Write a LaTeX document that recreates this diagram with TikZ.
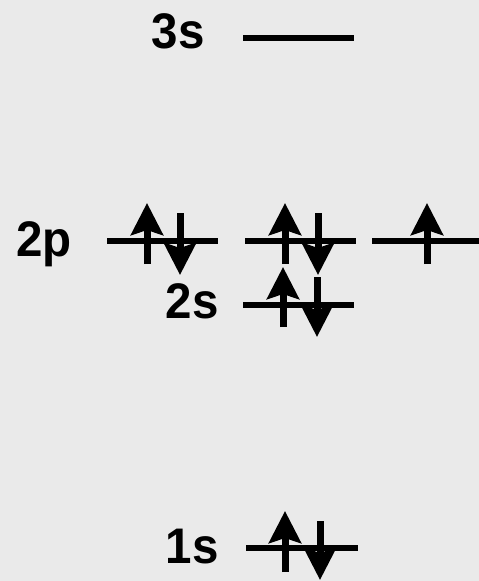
\documentclass[tikz,border=0pt]{standalone}
\usepackage{fontspec}
\setmainfont{Liberation Sans}
\usetikzlibrary{arrows.meta}
\definecolor{bg}{HTML}{EAEAEA}
\tikzset{
  level/.style={line width=6pt},
  spin/.style={line width=7pt,-{Stealth[width=32pt,length=32pt,inset=5pt]}},
  lab/.style={inner sep=0pt,font=\fontsize{50}{50}\selectfont\bfseries,xscale=0.95}
}
\begin{document}
\begin{tikzpicture}[x=1pt,y=-1pt]
\fill[bg] (0,0) rectangle (479,581);
\useasboundingbox (0,0) rectangle (479,581);
% levels
\coordinate (s3a) at (243,38); \coordinate (s3b) at (354,38);
\coordinate (p1a) at (107,241); \coordinate (p1b) at (218,241);
\coordinate (p2a) at (245,241); \coordinate (p2b) at (356,241);
\coordinate (p3a) at (372,241); \coordinate (p3b) at (479,241);
\coordinate (s2a) at (243,305); \coordinate (s2b) at (354,305);
\coordinate (s1a) at (246,548); \coordinate (s1b) at (358,548);
\draw[level] (s3a) -- (s3b);
\draw[level] (p1a) -- (p1b);
\draw[level] (p2a) -- (p2b);
\draw[level] (p3a) -- (p3b);
\draw[level] (s2a) -- (s2b);
\draw[level] (s1a) -- (s1b);
% labels
\node[lab,anchor=base east] (l3s) at (205,48) {3s};
\node[lab,anchor=base west] (l2p) at (16,256) {2p};
\node[lab,anchor=base east] (l2s) at (219,318) {2s};
\node[lab,anchor=base east] (l1s) at (219,563) {1s};
% spins 2p
\coordinate (u1a) at (147,264); \coordinate (u1b) at (147,203);
\coordinate (d1a) at (180,213); \coordinate (d1b) at (180,275);
\coordinate (u2a) at (285,264); \coordinate (u2b) at (285,203);
\coordinate (d2a) at (318,213); \coordinate (d2b) at (318,275);
\coordinate (u3a) at (427,264); \coordinate (u3b) at (427,203);
\draw[spin] (u1a) -- (u1b);
\draw[spin] (d1a) -- (d1b);
\draw[spin] (u2a) -- (u2b);
\draw[spin] (d2a) -- (d2b);
\draw[spin] (u3a) -- (u3b);
% 2s
\coordinate (u4a) at (283,327); \coordinate (u4b) at (283,267);
\coordinate (d4a) at (317,277); \coordinate (d4b) at (317,337);
\draw[spin] (u4a) -- (u4b);
\draw[spin] (d4a) -- (d4b);
% 1s
\coordinate (u5a) at (285,572); \coordinate (u5b) at (285,511);
\coordinate (d5a) at (320,521); \coordinate (d5b) at (320,580);
\draw[spin] (u5a) -- (u5b);
\draw[spin] (d5a) -- (d5b);
\end{tikzpicture}
\end{document}
